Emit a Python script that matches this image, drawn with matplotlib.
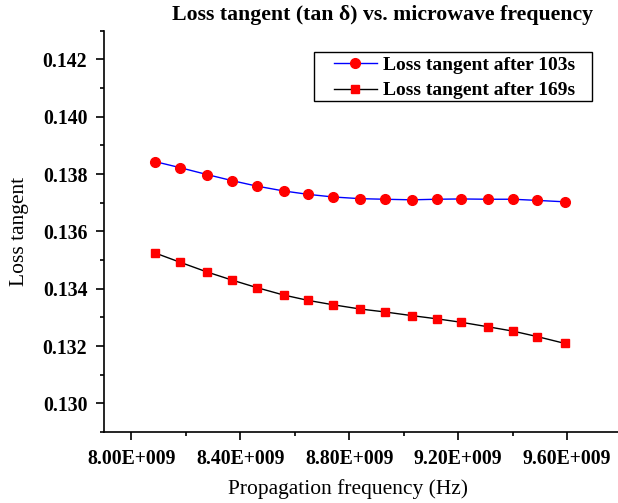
import matplotlib
matplotlib.use("Agg")
import matplotlib.pyplot as plt
from matplotlib.patches import Rectangle
from matplotlib.ticker import MultipleLocator, FuncFormatter

# frequency points (Hz)
freq = [8.089e9, 8.180e9, 8.279e9, 8.370e9, 8.460e9, 8.559e9, 8.650e9, 8.740e9,
        8.841e9, 8.930e9, 9.030e9, 9.121e9, 9.210e9, 9.310e9, 9.401e9, 9.490e9,
        9.592e9]

loss_103s = [0.13843, 0.13822, 0.13798, 0.13777, 0.13758, 0.13741, 0.13729, 0.13720,
             0.13714, 0.13712, 0.13710, 0.13712, 0.13713, 0.13712, 0.13712, 0.13708,
             0.13703]

loss_169s = [0.13524, 0.13492, 0.13458, 0.13430, 0.13404, 0.13378, 0.13359, 0.13344,
             0.13329, 0.13319, 0.13306, 0.13295, 0.13283, 0.13267, 0.13252, 0.13233,
             0.13209]

labels = ["Loss tangent after 103s", "Loss tangent after 169s"]

plt.rcParams["font.family"] = ["Liberation Serif", "DejaVu Serif"]

W, H = 618, 503
fig = plt.figure(figsize=(W / 100, H / 100), dpi=100)
ax = fig.add_axes([104 / W, 71 / H, 1 - 104 / W, (432 - 30.7) / H])

ax.plot(freq, loss_103s, color="blue", lw=1.0, marker="o", ms=7,
        mfc="red", mec="red", label=labels[0])
ax.plot(freq, loss_169s, color="black", lw=1.0, marker="s", ms=5.5,
        mfc="red", mec="red", label=labels[1])

ax.set_xlim(7.9e9, 9.787e9)
ax.set_ylim(0.129, 0.143)

ax.xaxis.set_major_locator(MultipleLocator(0.4e9))
ax.xaxis.set_minor_locator(MultipleLocator(0.2e9))
ax.yaxis.set_major_locator(MultipleLocator(0.002))
ax.yaxis.set_minor_locator(MultipleLocator(0.001))
ax.xaxis.set_major_formatter(FuncFormatter(lambda v, p: f"{v / 1e9:.2f}E+009"))
ax.yaxis.set_major_formatter(FuncFormatter(lambda v, p: f"{v:.3f}"))

for side in ("top", "right"):
    ax.spines[side].set_visible(False)
for side in ("left", "bottom"):
    ax.spines[side].set_linewidth(1.2)

ax.tick_params(which="major", direction="out", length=6, width=1.2,
               labelsize=14.2, pad=6)
ax.tick_params(which="minor", direction="out", length=3, width=1.2)
for lbl in ax.get_xticklabels() + ax.get_yticklabels():
    lbl.set_fontweight("bold")

ax.set_xlabel("Propagation frequency (Hz)", fontsize=15.5)
ax.xaxis.set_label_coords((348 - 104) / (W - 104), -47 / (432 - 30.7))
ax.set_ylabel("Loss tangent", fontsize=15.5, labelpad=10)

fig.text(382 / W, 1 - 15 / H, "Loss tangent (tan \u03b4) vs. microwave frequency",
         ha="center", va="center", fontsize=15.7, fontweight="bold")

# legend entries without frame, box drawn separately to match the wide padding
leg = ax.legend(loc="upper left", bbox_to_anchor=(334 / W, 1 - 56 / H),
                bbox_transform=fig.transFigure, frameon=False,
                borderpad=0, handlelength=2.2, handletextpad=0.3,
                labelspacing=0.42, borderaxespad=0,
                prop={"size": 14, "weight": "bold"})
fig.patches.append(Rectangle((314 / W, 1 - 101 / H), (592 - 314) / W, 49 / H,
                             transform=fig.transFigure, fill=False,
                             edgecolor="black", lw=1.0, zorder=5))

fig.savefig("out.png", dpi=100)
